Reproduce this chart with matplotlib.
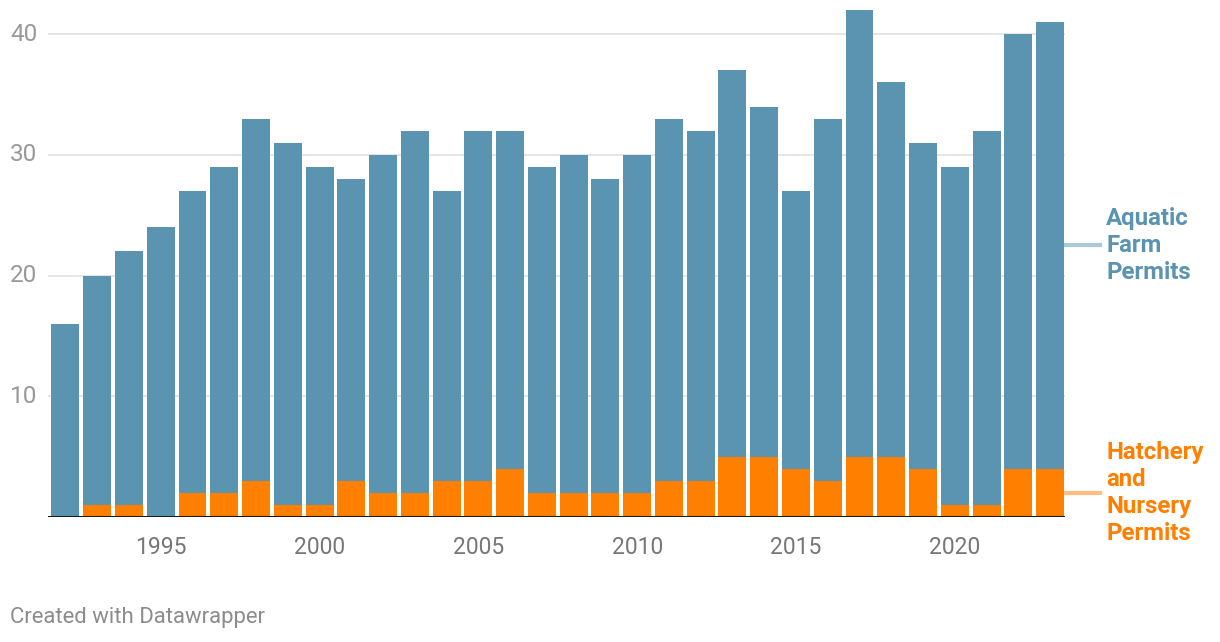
import matplotlib
matplotlib.use('Agg')
import matplotlib.pyplot as plt
from matplotlib.transforms import blended_transform_factory

# Dados
anos = list(range(1992, 2024))
total = [16, 20, 22, 24, 27, 29, 33, 31, 29, 28, 30, 32, 27, 32, 32, 29,
         30, 28, 30, 33, 32, 37, 34, 27, 33, 42, 36, 31, 29, 32, 40, 41]
hatchery = [0, 1, 1, 0, 2, 2, 3, 1, 1, 3, 2, 2, 3, 3, 4, 2,
            2, 2, 2, 3, 3, 5, 5, 4, 3, 5, 5, 4, 1, 1, 4, 4]
aquatic = [t - h for t, h in zip(total, hatchery)]
anos_ticks = [1995, 2000, 2005, 2010, 2015, 2020]
y_ticks = [10, 20, 30, 40]

cor_azul = '#5b94b1'
cor_laranja = '#ff7f00'
cinza = '#8c8c8c'

plt.rcParams['font.family'] = ['Roboto', 'DejaVu Sans']

W, H = 1220, 642
fig = plt.figure(figsize=(W / 100, H / 100), dpi=100)
ax = fig.add_axes([48 / W, 1 - 517 / H, (1065 - 48) / W, (517 - 10) / H])

ax.bar(anos, hatchery, width=0.88, color=cor_laranja, zorder=2)
ax.bar(anos, aquatic, width=0.88, bottom=hatchery, color=cor_azul, zorder=2)

ax.set_xlim(1991.45, 2023.47)
ax.set_ylim(0, 42)

# Grade
for y in y_ticks:
    ax.axhline(y, color='#e3e3e3', linewidth=1.3, zorder=1)
ax.axhline(0, color='#1a1a1a', linewidth=2.2, zorder=3)

for s in ax.spines.values():
    s.set_visible(False)
ax.set_yticks([])
ax.set_xticks(anos_ticks)
ax.set_xticklabels([str(a) for a in anos_ticks], fontsize=16.5, color='#777777')
ax.tick_params(axis='x', length=0, pad=14)

# Rótulos do eixo y à esquerda
trans_y = blended_transform_factory(fig.transFigure, ax.transData)
for y in y_ticks:
    fig.text(10 / W, y, str(y), transform=trans_y, fontsize=17.5, color='#999999',
             ha='left', va='center')

# Rótulos das séries
ult_h = hatchery[-1]
ult_a = aquatic[-1]
meio_a = ult_h + ult_a / 2
meio_h = ult_h / 2
for meio, cor, texto in [(meio_a, cor_azul, 'Aquatic\nFarm\nPermits'),
                         (meio_h, cor_laranja, 'Hatchery\nand\nNursery\nPermits')]:
    ax.plot([1065 / W, 1100 / W], [meio, meio], transform=trans_y, color=cor,
            alpha=0.5, linewidth=3, clip_on=False)
    fig.text(1106 / W, meio, texto, transform=trans_y, fontsize=17.3, color=cor,
             fontweight='bold', ha='left', va='center', linespacing=1.23)

fig.text(10 / W, 1 - 618 / H, 'Created with Datawrapper', fontsize=15.9,
         color=cinza, ha='left', va='center')

fig.savefig('out.png', dpi=100)
plt.close()
